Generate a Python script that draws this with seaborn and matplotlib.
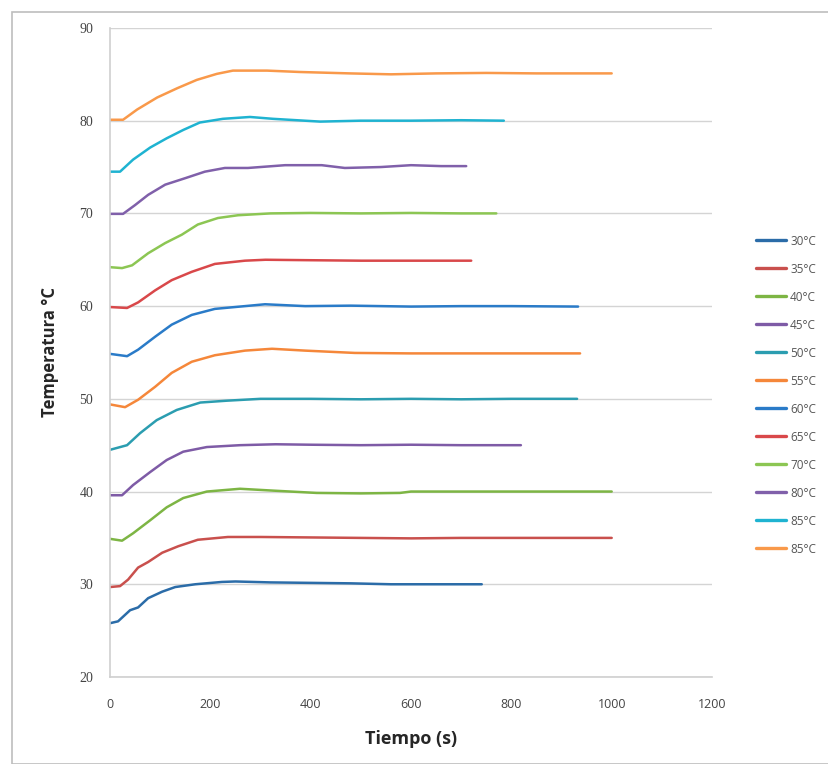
import numpy as np
import pandas as pd
import matplotlib
matplotlib.use('Agg')
import matplotlib.pyplot as plt
import seaborn as sns
from matplotlib.patches import Rectangle

# datos: (tiempo s, temperatura °C)
labels = ['30°C', '35°C', '40°C', '45°C', '50°C', '55°C',
          '60°C', '65°C', '70°C', '80°C', '85°C', '85°C']
colores = ['#2B6CA8', '#C9504D', '#7DB544', '#7E5BA6', '#2B9DB0', '#F5873A',
           '#2A7BC8', '#D9484A', '#8CC653', '#8060AA', '#1FB3D1', '#F9994A']

t30 = [0, 16, 40, 56, 76, 104, 130, 170, 223, 250, 320, 400, 480, 560, 650, 741]
T30 = [25.8, 26.0, 27.2, 27.5, 28.5, 29.2, 29.7, 30.0, 30.25, 30.3, 30.2, 30.15, 30.1, 30.0, 30.0, 30.0]

t35 = [0, 20, 36, 56, 76, 104, 136, 175, 235, 300, 400, 500, 600, 700, 800, 900, 1000]
T35 = [29.7, 29.8, 30.5, 31.8, 32.4, 33.4, 34.1, 34.8, 35.1, 35.1, 35.05, 35.0, 34.95, 35.0, 35.0, 35.0, 35.0]

t40 = [0, 24, 46, 80, 113, 146, 193, 259, 325, 412, 500, 578, 600, 700, 800, 900, 1000]
T40 = [34.9, 34.7, 35.5, 36.9, 38.3, 39.3, 40.0, 40.3, 40.1, 39.85, 39.8, 39.85, 40.0, 40.0, 40.0, 40.0, 40.0]

t45 = [0, 24, 46, 80, 113, 146, 193, 259, 330, 400, 500, 600, 700, 819]
T45 = [39.6, 39.6, 40.7, 42.1, 43.4, 44.3, 44.8, 45.0, 45.1, 45.05, 45.0, 45.05, 45.0, 45.0]

t50 = [0, 34, 60, 93, 133, 180, 233, 300, 400, 500, 600, 700, 800, 931]
T50 = [44.5, 45.0, 46.3, 47.7, 48.8, 49.6, 49.8, 50.0, 50.0, 49.95, 50.0, 49.95, 50.0, 50.0]

t55 = [0, 30, 56, 90, 123, 163, 209, 269, 323, 389, 488, 600, 700, 800, 937]
T55 = [49.4, 49.1, 49.9, 51.3, 52.8, 54.0, 54.7, 55.2, 55.4, 55.2, 54.95, 54.9, 54.9, 54.9, 54.9]

t60 = [0, 34, 56, 90, 123, 163, 209, 269, 309, 389, 480, 600, 700, 800, 933]
T60 = [54.85, 54.6, 55.3, 56.7, 58.0, 59.05, 59.7, 60.0, 60.2, 60.0, 60.05, 59.95, 60.0, 60.0, 59.95]

t65 = [0, 34, 56, 90, 123, 163, 209, 269, 310, 400, 500, 600, 720]
T65 = [59.9, 59.8, 60.4, 61.7, 62.8, 63.7, 64.55, 64.9, 65.0, 64.95, 64.9, 64.9, 64.9]

t70 = [0, 24, 44, 76, 110, 143, 175, 215, 255, 320, 400, 500, 600, 700, 770]
T70 = [64.2, 64.1, 64.4, 65.7, 66.8, 67.7, 68.8, 69.5, 69.8, 70.0, 70.05, 70.0, 70.05, 70.0, 70.0]

t80 = [0, 26, 50, 76, 110, 150, 189, 229, 275, 349, 422, 468, 540, 600, 660, 710]
T80 = [69.95, 69.95, 70.9, 72.0, 73.1, 73.8, 74.5, 74.9, 74.9, 75.2, 75.2, 74.9, 75.0, 75.2, 75.1, 75.1]

t85a = [0, 20, 46, 80, 113, 146, 179, 225, 279, 325, 419, 500, 600, 700, 785]
T85a = [74.5, 74.5, 75.8, 77.1, 78.1, 79.0, 79.8, 80.2, 80.4, 80.2, 79.9, 80.0, 80.0, 80.05, 80.0]

t85b = [0, 26, 54, 94, 134, 173, 213, 245, 313, 379, 478, 560, 650, 750, 850, 1000]
T85b = [80.1, 80.1, 81.2, 82.5, 83.5, 84.4, 85.05, 85.4, 85.4, 85.25, 85.1, 85.0, 85.1, 85.15, 85.1, 85.1]

tiempos = [t30, t35, t40, t45, t50, t55, t60, t65, t70, t80, t85a, t85b]
temps = [T30, T35, T40, T45, T50, T55, T60, T65, T70, T80, T85a, T85b]

sns.set_style('white')
plt.rcParams['font.family'] = ['Open Sans', 'DejaVu Sans']

fig = plt.figure(figsize=(8.29, 7.64), dpi=100)
ax = fig.add_axes([0.1327, 0.1139, 0.7262, 0.8495])

for lab, col, t, T in zip(labels, colores, tiempos, temps):
    df = pd.DataFrame({'t': t, 'T': T})
    sns.lineplot(data=df, x='t', y='T', color=col, lw=1.8, label=lab, ax=ax)

ax.set_xlim(0, 1200)
ax.set_ylim(20, 90)
ax.set_xticks(range(0, 1201, 200))
ax.set_yticks(range(20, 91, 10))
ax.yaxis.grid(True, color='#D4D4D4', lw=1)
ax.xaxis.grid(False)
for s in ['top', 'right']:
    ax.spines[s].set_visible(False)
for s in ['left', 'bottom']:
    ax.spines[s].set_color('#CFCFCF')
    ax.spines[s].set_linewidth(1.2)
ax.tick_params(axis='both', length=0, labelsize=9, colors='#444444')
ax.tick_params(axis='x', pad=15)
ax.tick_params(axis='y', pad=12)
for lb in ax.get_yticklabels():
    lb.set_family('Liberation Serif')
    lb.set_fontsize(10)
ax.set_xlabel('Tiempo (s)', fontsize=13, fontweight='bold', labelpad=14)
ax.set_ylabel('Temperatura °C', fontsize=12, fontweight='bold', labelpad=15)

leg = ax.legend(loc='upper left', bbox_to_anchor=(1.055, 0.698), frameon=False,
                fontsize=8.5, handlelength=2.6, handletextpad=0.3, labelspacing=1.27,
                labelcolor='#555555')
for h in leg.get_lines():
    h.set_linewidth(2.4)

fig.patches.append(Rectangle((12 / 829, 0), 1, 1 - 12 / 764, transform=fig.transFigure,
                             fill=False, edgecolor='#BEBEBE', lw=1.2))

fig.savefig('out.png', dpi=100)
